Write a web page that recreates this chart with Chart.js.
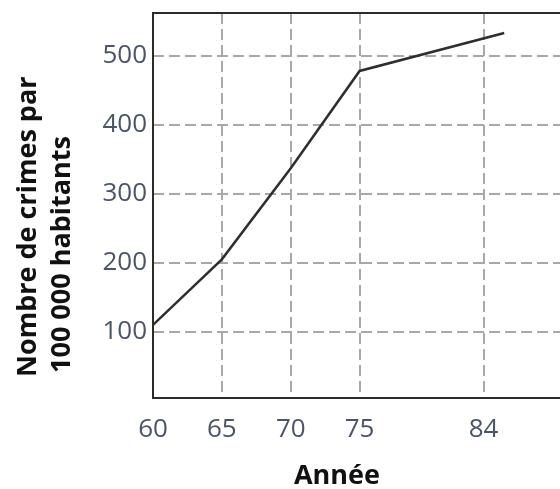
<!DOCTYPE html>
<html>
<head>
<meta charset="utf-8">
<script src="https://cdn.jsdelivr.net/npm/chart.js@4/dist/chart.umd.min.js"></script>
<style>
  html, body { margin: 0; padding: 0; background: #fff; overflow: hidden; }
  #wrap { width: 600px; height: 489px; }
</style>
</head>
<body>
<div id="wrap"><canvas id="crimeChart" width="600" height="489"></canvas></div>
<script>
// années et taux de criminalité
const years = [60, 65, 70, 75, 85.5];
const crimes = [110, 205, 337, 478, 533];
const xTicks = [60, 65, 70, 75, 84];
const yTicks = [100, 200, 300, 400, 500];
const yTitle = ['Nombre de crimes par', '100 000 habitants'];
const xTitle = 'Année';

const tickFont = { family: 'Open Sans', size: 26 };
const tickColor = '#4b5468';

// cadre + titres des axes
const framePlugin = {
    id: 'frame',
    afterDraw(chart) {
        const { ctx, chartArea: a } = chart;
        ctx.save();
        ctx.strokeStyle = '#2b2b2b';
        ctx.lineWidth = 2;
        ctx.strokeRect(a.left, a.top, a.right - a.left, a.bottom - a.top);

        ctx.fillStyle = '#111';
        ctx.font = 'bold 27px "Open Sans"';
        ctx.textAlign = 'center';
        ctx.textBaseline = 'alphabetic';
        ctx.fillText(xTitle, 337, 484);

        ctx.translate(0, 377);
        ctx.rotate(-Math.PI / 2);
        ctx.textAlign = 'left';
        ctx.fillText(yTitle[0], 0, 36);
        ctx.fillText(yTitle[1], 4, 70);
        ctx.restore();
    }
};

const ctx = document.getElementById('crimeChart').getContext('2d');
new Chart(ctx, {
    type: 'line',
    data: {
        datasets: [{
            data: years.map((y, i) => ({ x: y, y: crimes[i] })),
            borderColor: '#2e2e2e',
            borderWidth: 2.5,
            pointRadius: 0,
            tension: 0,
            fill: false
        }]
    },
    options: {
        responsive: false,
        animation: false,
        layout: { padding: { left: 0, top: 13, right: 20, bottom: 0 } },
        plugins: { legend: { display: false }, tooltip: { enabled: false } },
        scales: {
            x: {
                type: 'linear',
                min: 60,
                max: 91,
                afterBuildTicks: scale => { scale.ticks = xTicks.map(v => ({ value: v })); },
                afterFit: scale => {
                    scale.height = 91;
                    scale.paddingLeft = 0;
                    scale.paddingRight = 0;
                },
                grid: {
                    color: ctx => ctx.tick && ctx.tick.value === 60 ? 'rgba(0,0,0,0)' : '#a8a8a8',
                    lineWidth: 2,
                    drawTicks: false
                },
                border: { display: false, dash: [11, 5] },
                ticks: { font: tickFont, color: tickColor, padding: 16, maxRotation: 0, autoSkip: false }
            },
            y: {
                min: 4,
                max: 562,
                afterBuildTicks: scale => { scale.ticks = yTicks.map(v => ({ value: v })); },
                afterFit: scale => {
                    scale.width = 153;
                    scale.paddingTop = 0;
                    scale.paddingBottom = 0;
                },
                grid: {
                    color: '#a8a8a8',
                    lineWidth: 2,
                    drawTicks: false
                },
                border: { display: false, dash: [11, 5] },
                ticks: { font: tickFont, color: tickColor, padding: 6 }
            }
        }
    },
    plugins: [framePlugin]
});
</script>
</body>
</html>
